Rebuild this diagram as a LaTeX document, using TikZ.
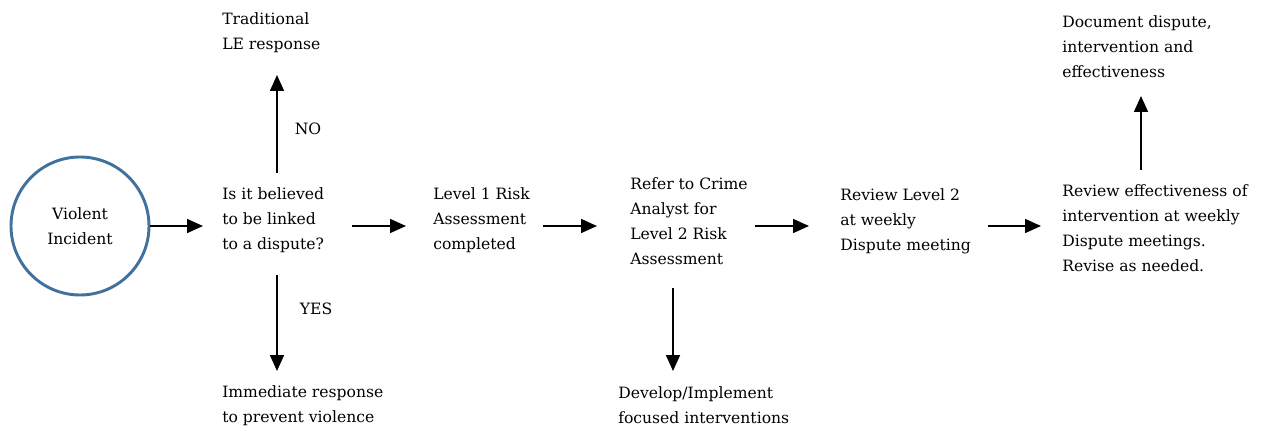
\documentclass[tikz,border=0pt]{standalone}
\usepackage{fontspec}
\setmainfont{DejaVu Serif}
\usetikzlibrary{arrows.meta}
\definecolor{circblue}{RGB}{65,113,156}
\begin{document}
\begin{tikzpicture}[x=0.75pt,y=-0.75pt,
  txt/.style={align=left, anchor=west, inner sep=0pt, font=\fontsize{11.7}{18.75}\selectfont},
  lbl/.style={anchor=center, inner sep=0pt, font=\fontsize{11.7}{18.75}\selectfont},
  arr/.style={-{Triangle[length=12pt,width=10.5pt]}, line width=1.2pt}]
\useasboundingbox (0,0) rectangle (1266,427);

\node[circle, draw=circblue, line width=2.2pt, minimum size=103.5pt, inner sep=0pt, align=center,
      font=\fontsize{11.7}{18.75}\selectfont] (inc) at (80,226) {Violent\\Incident};

\node[txt] (q)   at (222,220) {Is it believed\\to be linked\\to a dispute?};
\node[txt] (trad) at (222,33) {Traditional\\LE response};
\node[txt] (imm) at (222,406) {Immediate response\\to prevent violence};
\node[lbl] (no)  at (308,129) {NO};
\node[lbl] (yes) at (316,309) {YES};

\node[txt] (l1)  at (433,220) {Level 1 Risk\\Assessment\\completed};
\node[txt] (ref) at (630,221) {Refer to Crime\\Analyst for\\Level 2 Risk\\Assessment};
\node[txt] (dev) at (618,405) {Develop/Implement\\focused interventions};
\node[txt] (rev) at (840,221) {Review Level 2\\at weekly\\Dispute meeting};
\node[txt] (eff) at (1062,228) {Review effectiveness of\\intervention at weekly\\Dispute meetings.\\Revise as needed.};
\node[txt] (doc) at (1062,47) {Document dispute,\\intervention and\\effectiveness};

\coordinate (a1e) at (203,226);
\coordinate (upS) at (277,173);
\coordinate (upE) at (277,75);
\coordinate (dnS) at (277,275);
\coordinate (dnE) at (277,371);
\coordinate (a2s) at (352,226);
\coordinate (a2e) at (406,226);
\coordinate (a3s) at (543,226);
\coordinate (a3e) at (597,226);
\coordinate (a4s) at (755,226);
\coordinate (a4e) at (809,226);
\coordinate (d2s) at (673,288);
\coordinate (d2e) at (673,371);
\coordinate (a5s) at (988,226);
\coordinate (a5e) at (1041,226);
\coordinate (u2s) at (1141,170);
\coordinate (u2e) at (1141,96);

\draw[arr] (inc.east) -- (a1e);
\draw[arr] (upS) -- (upE);
\draw[arr] (dnS) -- (dnE);
\draw[arr] (a2s) -- (a2e);
\draw[arr] (a3s) -- (a3e);
\draw[arr] (a4s) -- (a4e);
\draw[arr] (d2s) -- (d2e);
\draw[arr] (a5s) -- (a5e);
\draw[arr] (u2s) -- (u2e);
\end{tikzpicture}
\end{document}
